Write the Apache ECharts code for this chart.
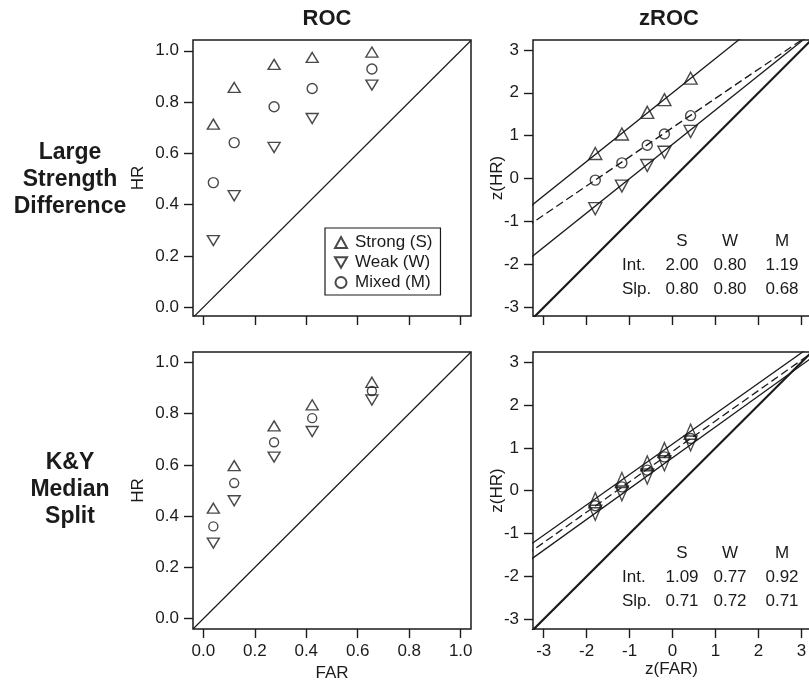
<!DOCTYPE html>
<html>
<head>
<meta charset="utf-8">
<title>ROC and zROC</title>
<script src="https://cdn.jsdelivr.net/npm/echarts@6/dist/echarts.min.js"></script>
<style>
  html, body { margin: 0; padding: 0; background: #fff; }
  #main { width: 809px; height: 683px; }
</style>
</head>
<body>
<div id="main"></div>
<script>
// false alarm rates (same five points in both rows)
var far = [0.039, 0.12, 0.275, 0.423, 0.655];
var zFar = [-1.8, -1.18, -0.59, -0.19, 0.42];

// Large Strength Difference
var hrStrongTop = [0.714, 0.857, 0.947, 0.974, 0.995];
var hrWeakTop = [0.26, 0.435, 0.623, 0.736, 0.866];
var hrMixedTop = [0.486, 0.642, 0.782, 0.853, 0.929];
var zStrongTop = [0.585, 1.04, 1.545, 1.84, 2.34];
var zWeakTop = [-0.7, -0.174, 0.306, 0.616, 1.1];
var zMixedTop = [-0.035, 0.368, 0.778, 1.04, 1.467];

// K&Y Median Split
var hrStrongBot = [0.431, 0.597, 0.752, 0.834, 0.922];
var hrWeakBot = [0.295, 0.46, 0.63, 0.73, 0.853];
var hrMixedBot = [0.36, 0.529, 0.688, 0.782, 0.888];
var zStrongBot = [-0.22, 0.25, 0.64, 0.95, 1.38];
var zWeakBot = [-0.515, -0.063, 0.33, 0.64, 1.105];
var zMixedBot = [-0.35, 0.09, 0.48, 0.79, 1.22];

// fitted zROC lines, order S, W, M
var fitKeys = ["S", "W", "M"];
var fitIntTop = [2.0, 0.8, 1.19];
var fitSlpTop = [0.8, 0.8, 0.68];
var fitIntBot = [1.09, 0.77, 0.92];
var fitSlpBot = [0.71, 0.72, 0.71];

var rocTicks = [0, 0.2, 0.4, 0.6, 0.8, 1.0];
var zTicks = [-3, -2, -1, 0, 1, 2, 3];

var INK = "#1b1b1b";
var FONT = "'Liberation Sans', Arial, sans-serif";
var DOWN = "path://M0,0L10,0L5,8.66Z";

var chart = echarts.init(document.getElementById("main"));

function pairs(xs, ys) {
  return xs.map(function (x, i) { return [x, ys[i]]; });
}

function axis(gi, min, max, ticks, showLabels, fmt, extra) {
  var a = {
    type: "value",
    gridIndex: gi,
    min: min,
    max: max,
    nameMoveOverlap: false,
    splitLine: { show: false },
    axisLine: { show: false, onZero: false },
    axisTick: { show: true, inside: false, length: 9, customValues: ticks, lineStyle: { color: INK, width: 1.4 } },
    axisLabel: {
      show: showLabels,
      customValues: ticks,
      margin: 14,
      fontSize: 17,
      color: INK,
      fontFamily: FONT,
      formatter: fmt
    },
    nameTextStyle: { fontSize: 17, color: INK, fontFamily: FONT }
  };
  return Object.assign(a, extra || {});
}

function f1(v) { return v.toFixed(1); }
function f0(v) { return String(v); }

function marks(name, gi, xs, ys, kind, size) {
  return {
    name: name,
    type: "scatter",
    xAxisIndex: gi,
    yAxisIndex: gi,
    data: pairs(xs, ys),
    symbol: kind === "circle" ? "circle" : (kind === "down" ? DOWN : "triangle"),
    symbolSize: size,
    itemStyle: { color: "rgba(255,255,255,0)", borderColor: INK, borderWidth: 1.4 },
    z: 5,
    silent: true
  };
}

function line(gi, pts, width, dashed) {
  return {
    type: "line",
    xAxisIndex: gi,
    yAxisIndex: gi,
    data: pts,
    symbol: "none",
    silent: true,
    clip: true,
    lineStyle: { color: INK, width: width, type: dashed ? [8, 4] : "solid" },
    z: 3
  };
}

function fitLines(gi, ints, slps) {
  var lo = -3.4, hi = 3.4;
  return ints.map(function (b, i) {
    return line(gi, [[lo, b + slps[i] * lo], [hi, b + slps[i] * hi]], 1.3, fitKeys[i] === "M");
  });
}

function table(top, ints, slps) {
  var rows = [top, top + 24, top + 48];
  var cols = [682, 730, 782];
  var t = function (x, y, text, align) {
    return { type: "text", x: x, y: y, style: { text: text, font: "17px " + FONT, fill: INK, align: align || "center", verticalAlign: "middle" } };
  };
  var out = [];
  fitKeys.forEach(function (k, i) {
    out.push(t(cols[i], rows[0], k));
    out.push(t(cols[i], rows[1], ints[i].toFixed(2)));
    out.push(t(cols[i], rows[2], slps[i].toFixed(2)));
  });
  out.push(t(622, rows[1], "Int.", "left"));
  out.push(t(622, rows[2], "Slp.", "left"));
  return out;
}

var rocLo = -0.04, rocHi = 1.04;

var option = {
  animation: false,
  backgroundColor: "#fff",
  grid: [
    { left: 193, top: 40, width: 278, height: 276 },
    { left: 533, top: 40, width: 277, height: 276 },
    { left: 193, top: 352, width: 278, height: 277 },
    { left: 533, top: 352, width: 277, height: 277 }
  ].map(function (g) {
    return Object.assign(g, { show: true, borderColor: INK, borderWidth: 1.5, backgroundColor: "transparent", outerBoundsMode: "none" });
  }),
  xAxis: [
    axis(0, rocLo, rocHi, rocTicks, false, f1),
    axis(1, -3.25, 3.2, zTicks, false, f0),
    axis(2, rocLo, rocHi, rocTicks, true, f1, { name: "FAR", nameLocation: "middle", nameGap: 36 }),
    axis(3, -3.25, 3.2, zTicks, true, f0, { name: "z(FAR)", nameLocation: "middle", nameGap: 32 })
  ],
  yAxis: [
    axis(0, -0.034, 1.042, rocTicks, true, f1, { name: "HR", nameLocation: "middle", nameGap: 46 }),
    axis(1, -3.2, 3.23, zTicks, true, f0, { name: "z(HR)", nameLocation: "middle", nameGap: 27 }),
    axis(2, -0.04, 1.04, rocTicks, true, f1, { name: "HR", nameLocation: "middle", nameGap: 46 }),
    axis(3, -3.23, 3.24, zTicks, true, f0, { name: "z(HR)", nameLocation: "middle", nameGap: 27 })
  ],
  legend: {
    data: ["Strong (S)", "Weak (W)", "Mixed (M)"],
    orient: "vertical",
    left: 325,
    top: 228,
    padding: [6, 8, 4, 9],
    itemGap: 3,
    itemWidth: 12,
    itemHeight: 11,
    borderColor: INK,
    borderWidth: 1.2,
    selectedMode: false,
    textStyle: { fontSize: 17, color: INK, fontFamily: FONT, padding: [0, 0, 0, 3] }
  },
  graphic: [
    { type: "text", x: 327, y: 19, style: { text: "ROC", font: "bold 22px " + FONT, fill: INK, align: "center", verticalAlign: "middle" } },
    { type: "text", x: 669, y: 19, style: { text: "zROC", font: "bold 22px " + FONT, fill: INK, align: "center", verticalAlign: "middle" } },
    { type: "text", x: 70, y: 180, style: { text: "Large\nStrength\nDifference", font: "bold 23px " + FONT, lineHeight: 27, fill: INK, align: "center", verticalAlign: "middle" } },
    { type: "text", x: 70, y: 490, style: { text: "K&Y\nMedian\nSplit", font: "bold 23px " + FONT, lineHeight: 27, fill: INK, align: "center", verticalAlign: "middle" } }
  ].concat(table(241, fitIntTop, fitSlpTop)).concat(table(553, fitIntBot, fitSlpBot)),
  series: [
    line(0, [[rocLo, rocLo], [rocHi, rocHi]], 1.2),
    marks("Strong (S)", 0, far, hrStrongTop, "up", [12, 10]),
    marks("Weak (W)", 0, far, hrWeakTop, "down", [12, 10]),
    marks("Mixed (M)", 0, far, hrMixedTop, "circle", 10),

    line(1, [[-3.4, -3.4], [3.4, 3.4]], 2.2),
    marks("S top z", 1, zFar, zStrongTop, "up", [13, 12]),
    marks("W top z", 1, zFar, zWeakTop, "down", [13, 12]),
    marks("M top z", 1, zFar, zMixedTop, "circle", 10),

    line(2, [[rocLo, rocLo], [rocHi, rocHi]], 1.2),
    marks("S bot", 2, far, hrStrongBot, "up", [12, 10]),
    marks("W bot", 2, far, hrWeakBot, "down", [12, 10]),
    marks("M bot", 2, far, hrMixedBot, "circle", 9),

    line(3, [[-3.4, -3.4], [3.4, 3.4]], 2.2),
    marks("S bot z", 3, zFar, zStrongBot, "up", [13, 15]),
    marks("W bot z", 3, zFar, zWeakBot, "down", [13, 15]),
    marks("M bot z", 3, zFar, zMixedBot, "circle", 10)
  ]
    .concat(fitLines(1, fitIntTop, fitSlpTop))
    .concat(fitLines(3, fitIntBot, fitSlpBot))
};

chart.setOption(option);
</script>
</body>
</html>
